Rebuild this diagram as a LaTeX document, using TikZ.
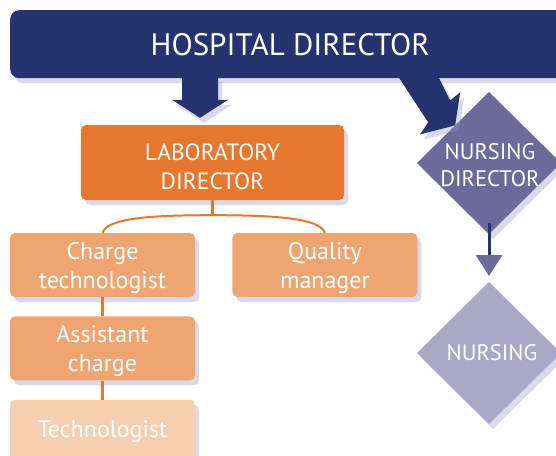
\documentclass[tikz,border=0pt]{standalone}
\usepackage{fontspec}
\setmainfont{PT Sans}
\usetikzlibrary{arrows.meta,positioning,calc,shapes.geometric,shadows}
\definecolor{hdnavy}{HTML}{25346F}
\definecolor{laborange}{HTML}{E7762E}
\definecolor{labtint}{HTML}{EEA572}
\definecolor{labpale}{HTML}{F6CFB1}
\definecolor{nurdark}{HTML}{6B6A9B}
\definecolor{nurlight}{HTML}{A9A8C7}
\definecolor{shade}{HTML}{9493C2}

\begin{document}
\begin{tikzpicture}[
  x=1pt, y=-1pt,
  node distance=19pt and 37pt,
  shadowed/.style={
    drop shadow={shadow xshift=4pt, shadow yshift=-5pt, fill=shade, opacity=0.35}},
  topbar/.style={
    shadowed, fill=hdnavy, rounded corners=9pt, inner sep=0pt,
    minimum width=560pt, minimum height=68pt,
    text=white, font=\fontsize{31}{38}\selectfont},
  labbox/.style={
    shadowed, rounded corners=5pt, inner sep=0pt, align=center,
    minimum width=185pt, minimum height=64pt,
    text=white, font=\fontsize{24}{29}\selectfont},
  twoline/.style={text height=#1},
  twoline/.default=52pt,
  nurse/.style={
    diamond, shadowed, inner sep=0pt, outer sep=0pt,
    minimum width=144pt, minimum height=142pt},
  nurtext/.style={
    align=center, text=white, font=\fontsize{22.5}{27}\selectfont},
  twig/.style={laborange, line width=3pt},
  bough/.style={laborange, line width=2pt},
  drop/.style={-{Triangle[length=21pt, width=26pt, color=nurdark]},
    hdnavy, line width=3pt},
]
  \useasboundingbox (0,0) rectangle (556,455);
  \clip (0,0) rectangle (556,455);

  %% ---- Top ----
  \node[topbar, anchor=north west] (hosp) at (10,10) {HOSPITAL DIRECTOR};

  %% ---- Laboratory ----
  \node[labbox, twoline=54pt, fill=laborange, minimum width=263pt, minimum height=75pt,
    font=\fontsize{23.5}{29}\selectfont] (lab) at (212.5,162.5) {LABORATORY\\DIRECTOR};
  \node[labbox, twoline, fill=labtint] (chg) at (102.5,265) {Charge\\technologist};
  \node[labbox, twoline, fill=labtint, right=of chg] (qual) {Quality\\manager};
  \node[labbox, twoline, fill=labtint, below=of chg] (asst) {Assistant\\charge};
  \node[labbox, fill=labpale, below=of asst] (tech) {Technologist};

  \coordinate (fork) at ($(lab.south)+(0,15)$);
  \draw[twig] (lab.south) -- (fork);
  \draw[bough] (chg.north) .. controls +(5,-15) and +(-60,0) .. (fork)
    .. controls +(60,0) and +(-5,-15) .. (qual.north);
  \draw[twig] (chg) -- (asst);
  \draw[twig] (asst) -- (tech);

  %% ---- Nursing ----
  \node[nurse, fill=nurdark] (ndir) at (489,163) {};
  \node[nurse, fill=nurlight] (nurs) at (489,353) {};
  \node[nurtext] (ndirlbl) at ($(ndir)+(1,2)$) {NURSING\\DIRECTOR};
  \node[nurtext] (nurslbl) at ($(nurs)+(3,0)$) {NURSING};
  \draw[drop, shorten >=6pt] ($(ndir.south)+(0,-11)$) -- (nurs.north);

  %% ---- Block arrows from the top ----
  \coordinate (labtip) at ($(lab.north)+(-12.5,-7)$);
  \fill[hdnavy, shadowed] ($(labtip)+(-18,-41)$) -- ++(0,23) -- ++(-10,0)
    -- (labtip) -- ++(28,-18) -- ++(-10,0) -- ++(0,-23) -- cycle;
  \coordinate (nurtip) at ($(ndir.west)!0.53!(ndir.north)$);
  \fill[hdnavy, shadowed] ($(nurtip)+(-57,-49)$) -- ($(nurtip)+(-27,-3)$)
    -- ($(nurtip)+(-35,9)$) -- (nurtip) -- ($(nurtip)+(5,-33)$)
    -- ($(nurtip)+(-5,-25)$) -- ($(nurtip)+(-17,-49)$) -- cycle;

\end{tikzpicture}
\end{document}
